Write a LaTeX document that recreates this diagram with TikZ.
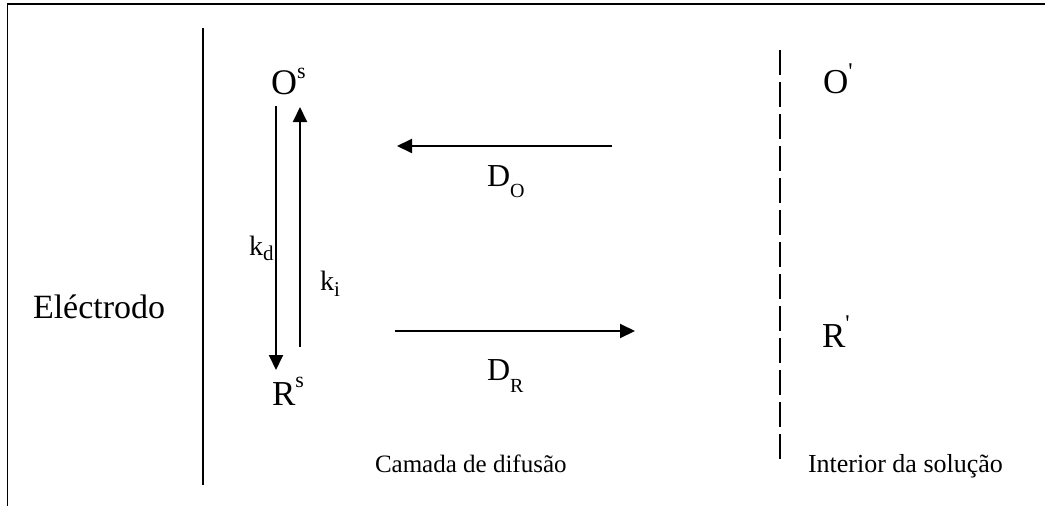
\documentclass[tikz,border=0pt]{standalone}
\usepackage{fontspec}
\setmainfont{Liberation Serif}
\usetikzlibrary{arrows.meta}
\newcommand{\fs}[1]{\fontsize{#1}{#1}\selectfont}
\tikzset{
  lbl/.style={anchor=base west, inner sep=0pt, outer sep=0pt},
  arr/.style={line width=2pt, -{Triangle[length=15pt,width=14pt]}},
  wall/.style={line width=1.8pt},
  frame/.style={line width=1.5pt},
}
\begin{document}
\begin{tikzpicture}[x=1pt,y=-1pt]
\useasboundingbox (0,0) rectangle (1045,506);
% frame
\coordinate (fa) at (1045,4);
\coordinate (fb) at (7.5,4);
\coordinate (fc) at (7.5,506);
\draw[frame] (fa) -- (fb) -- (fc);
% electrode wall
\coordinate (w1) at (203,28);
\coordinate (w2) at (203,485);
\draw[wall] (w1) -- (w2);
% dashed boundary
\coordinate (d1) at (780,50);
\coordinate (d2) at (780,461);
\draw[wall, dash pattern=on 25pt off 7pt] (d1) -- (d2);
% texts
\node[lbl] (el) at (33,318) {\fs{34}Eléctrodo};
\node[lbl] (Os) at (271,94) {\fs{36}O\raisebox{16pt}{\fs{22}s}};
\node[lbl] (Rs) at (272,405) {\fs{35}R\raisebox{18pt}{\fs{22}s}};
\node[lbl] (kd) at (249,255) {\fs{28}k\raisebox{-5pt}{\fs{21}d}};
\node[lbl] (ki) at (320,290) {\fs{28}k\raisebox{-6pt}{\fs{21}i}};
\node[lbl] (DO) at (487,186) {\fs{32}D\raisebox{-11pt}{\fs{20}O}};
\node[lbl] (DR) at (487,380) {\fs{32}D\raisebox{-12pt}{\fs{20}R}};
\node[lbl] (Ob) at (823,93) {\fs{35}O\raisebox{14pt}{\fs{24}\textquotesingle}};
\node[lbl] (Rb) at (822,347) {\fs{35}R\raisebox{16pt}{\fs{24}\textquotesingle}};
\node[lbl] (cam) at (375,472) {\fs{25}Camada de difusão};
\node[lbl] (int) at (808,472) {\fs{26}Interior da solução};
% arrows
\coordinate (kd1) at (276,106);
\coordinate (kd2) at (276,370);
\coordinate (ki1) at (300,347);
\coordinate (ki2) at (300,107);
\coordinate (do1) at (612,146);
\coordinate (do2) at (397,146);
\coordinate (dr1) at (395,331);
\coordinate (dr2) at (635,331);
\draw[arr] (kd1) -- (kd2);
\draw[arr] (ki1) -- (ki2);
\draw[arr] (do1) -- (do2);
\draw[arr] (dr1) -- (dr2);
\end{tikzpicture}
\end{document}
